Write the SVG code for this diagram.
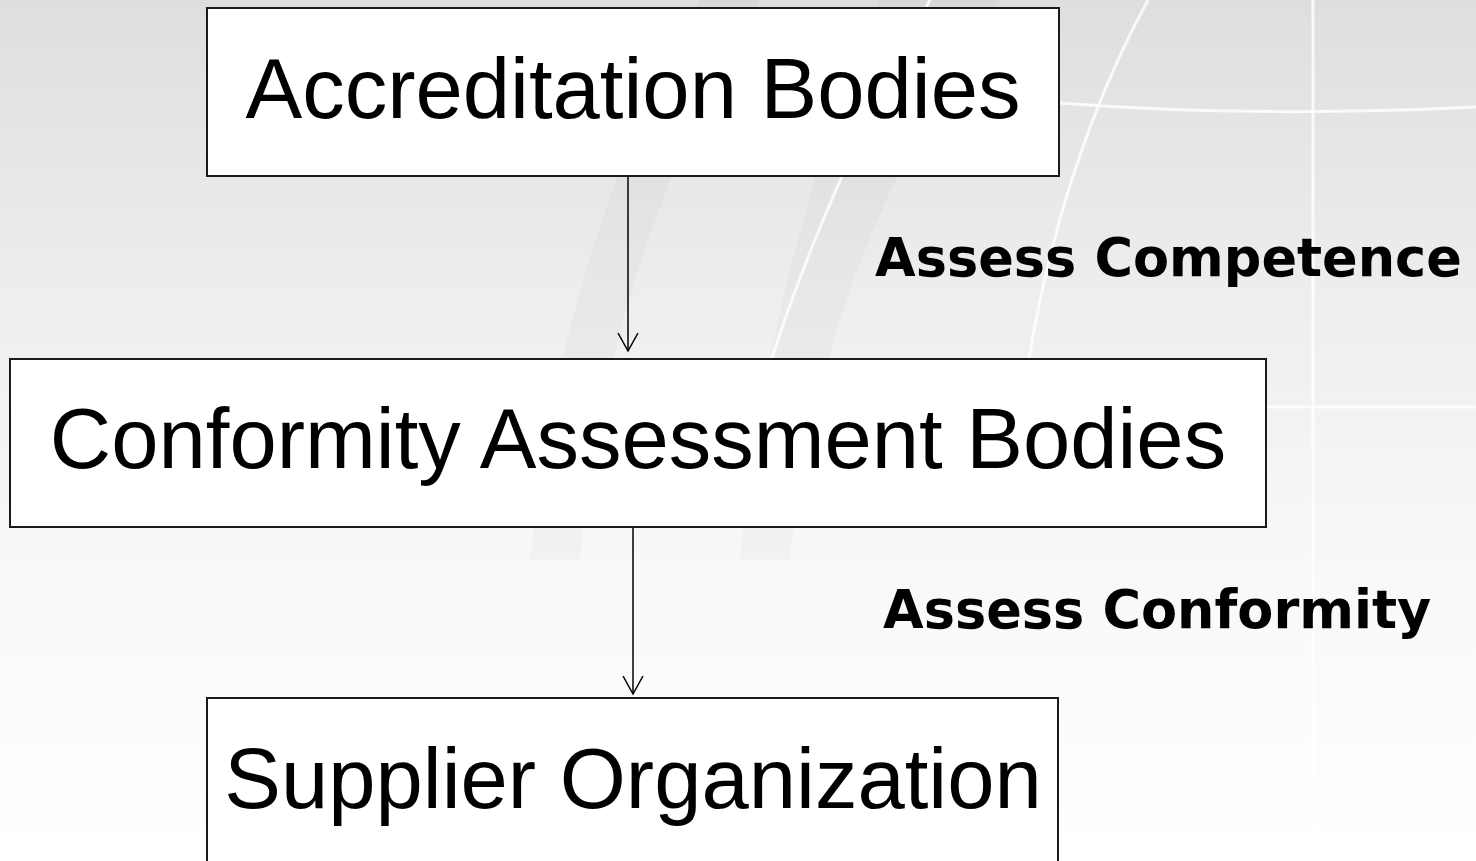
<svg xmlns="http://www.w3.org/2000/svg" width="1476" height="861" viewBox="0 0 1476 861">
  <defs>
    <linearGradient id="bg" x1="0" y1="0" x2="0" y2="1">
      <stop offset="0" stop-color="#dedede"/>
      <stop offset="0.35" stop-color="#eeeeee"/>
      <stop offset="0.65" stop-color="#f8f8f8"/>
      <stop offset="1" stop-color="#ffffff"/>
    </linearGradient>
    <marker id="arr" markerWidth="20" markerHeight="22" refX="18" refY="10" orient="auto" markerUnits="userSpaceOnUse" viewBox="0 0 20 20">
      <path d="M0,0 L18,10 L0,20" fill="none" stroke="#000" stroke-width="1.5"/>
    </marker>
    <style>
      .box { fill: #ffffff; stroke: #1a1a1a; stroke-width: 2; }
      .node-text { font-family: "Liberation Sans", Arial, sans-serif; font-size: 85px; fill: #000; text-anchor: middle; }
      .label { font-family: "DejaVu Sans", Verdana, sans-serif; font-weight: bold; font-size: 52.5px; fill: #000; }
      .conn { stroke: #000; stroke-width: 1.5; fill: none; }
      .band { fill: #000; fill-opacity: 0.022; }
      .wline { stroke: #ffffff; stroke-width: 3; fill: none; stroke-opacity: 0.8; }
    </style>
  </defs>

  <g id="background">
    <rect x="0" y="0" width="1476" height="861" fill="url(#bg)"/>
    <path class="band" d="M700,0 L760,0 Q610,250 580,560 L530,560 Q560,250 700,0 Z"/>
    <path class="band" d="M880,0 L1000,0 Q820,260 790,560 L740,560 Q770,260 880,0 Z"/>
    <path class="wline" d="M1148,0 Q1050,180 1020,420"/>
    <path class="wline" d="M930,0 Q820,200 765,380"/>
    <path class="wline" d="M1060,103 Q1250,118 1476,107"/>
    <path class="wline" d="M1313,0 L1313,861"/>
    <path class="wline" d="M1266,407 L1476,407" stroke-opacity="0.6"/>
  </g>

  <g id="connectors">
    <line class="conn" x1="628" y1="177" x2="628" y2="351" marker-end="url(#arr)"/>
    <line class="conn" x1="633" y1="528" x2="633" y2="694" marker-end="url(#arr)"/>
  </g>

  <g id="node-accreditation">
    <rect class="box" x="207" y="8" width="852" height="168"/>
    <text class="node-text" x="633" y="118">Accreditation Bodies</text>
  </g>

  <g id="node-cab">
    <rect class="box" x="10" y="359" width="1256" height="168"/>
    <text class="node-text" x="638" y="468">Conformity Assessment Bodies</text>
  </g>

  <g id="node-supplier">
    <rect class="box" x="207" y="698" width="851" height="175"/>
    <text class="node-text" x="633" y="808">Supplier Organization</text>
  </g>

  <g id="labels">
    <text class="label" x="875" y="276">Assess Competence</text>
    <text class="label" x="883" y="628">Assess Conformity</text>
  </g>
</svg>
